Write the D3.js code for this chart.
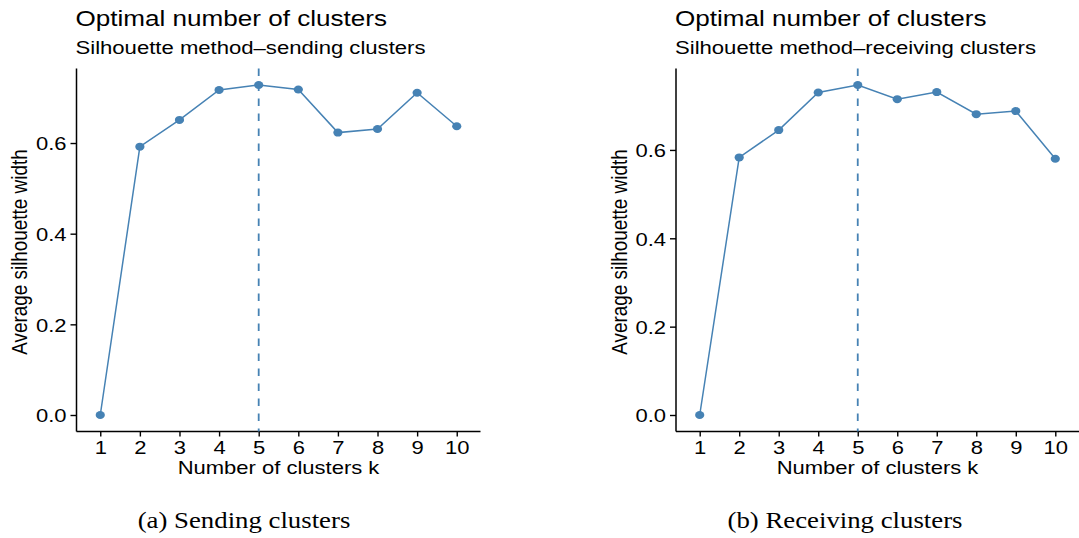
<!DOCTYPE html>
<html>
<head>
<meta charset="utf-8">
<script src="https://cdn.jsdelivr.net/npm/d3@7"></script>
<style>
  html, body { margin: 0; padding: 0; background: #fff; }
  svg { display: block; }
</style>
</head>
<body>
<svg id="chart" width="1079" height="538"></svg>
<script>
// ---- data ----
const kValues = [1, 2, 3, 4, 5, 6, 7, 8, 9, 10];
const sendingWidth = [0, 0.592, 0.651, 0.717, 0.728, 0.718, 0.623, 0.631, 0.711, 0.637];
const receivingWidth = [0, 0.583, 0.645, 0.730, 0.747, 0.715, 0.731, 0.681, 0.688, 0.580];
const yTickValues = [0, 0.2, 0.4, 0.6];
const optimalK = [5, 5];
const titles = ["Optimal number of clusters", "Optimal number of clusters"];
const subtitles = ["Silhouette method\u2013sending clusters", "Silhouette method\u2013receiving clusters"];
const captions = ["(a) Sending clusters", "(b) Receiving clusters"];
const xTitle = "Number of clusters k";
const yTitle = "Average silhouette width";

// ---- layout ----
const SX = 1.17;             // horizontal stretch of the original figure
const FONT = "'Liberation Sans', Arial, Helvetica, sans-serif";
const SERIF = "'Liberation Serif', 'Times New Roman', serif";
const COLOR = "steelblue";
const panels = [
  { left: 76.5, right: 480.5, values: sendingWidth, k: optimalK[0], title: titles[0], subtitle: subtitles[0], caption: captions[0], capX: 244 },
  { left: 676, right: 1079, values: receivingWidth, k: optimalK[1], title: titles[1], subtitle: subtitles[1], caption: captions[1], capX: 845 }
];
const plotTop = 68.5, plotBottom = 431.5;

const svg = d3.select("#chart");

function stretchedText(g, x, y, txt, size, anchor, family, weight) {
  return g.append("text")
    .attr("transform", `translate(${x},${y}) scale(${SX},1)`)
    .attr("text-anchor", anchor || "start")
    .attr("font-family", family || FONT)
    .attr("font-size", size)
    .attr("font-weight", weight || "normal")
    .attr("fill", "#000")
    .text(txt);
}

panels.forEach(p => {
  const g = svg.append("g");
  const vmin = d3.min(p.values), vmax = d3.max(p.values);
  const pad = (vmax - vmin) * 0.05;
  const y = d3.scaleLinear().domain([vmin - pad, vmax + pad]).range([plotBottom, plotTop]);
  const x = d3.scaleLinear().domain([0.4, 10.6]).range([p.left, p.right]);

  // axes
  const xAxis = d3.axisBottom(x).tickValues(kValues).tickSize(5).tickSizeOuter(0).tickFormat(d3.format("d"));
  const yAxis = d3.axisLeft(y).tickValues(yTickValues).tickSize(6).tickSizeOuter(0).tickFormat(d3.format(".1f"));

  const gx = g.append("g").attr("transform", `translate(0,${plotBottom})`).call(xAxis);
  const gy = g.append("g").attr("transform", `translate(${p.left},0)`).call(yAxis);

  [gx, gy].forEach(a => {
    a.select(".domain").attr("stroke", "#000").attr("stroke-width", 1.5);
    a.selectAll(".tick line").attr("stroke", "#000").attr("stroke-width", 1.4);
    a.selectAll(".tick text").attr("font-family", FONT).attr("font-size", 18.8).attr("fill", "#000");
  });
  gx.select(".domain").attr("d", `M${p.left},0H${p.right}`);
  gy.select(".domain").attr("d", `M0,${plotTop}V${plotBottom}`);
  gx.selectAll(".tick text").attr("y", 22.5).attr("dy", 0).attr("transform", `scale(${SX},1)`)
    .attr("x", 0);
  gy.selectAll(".tick text").attr("x", -10 / SX).attr("dy", "0.36em").attr("transform", `scale(${SX},1)`);

  // vertical dashed line at optimal k
  g.append("line")
    .attr("x1", x(p.k)).attr("x2", x(p.k))
    .attr("y1", plotTop).attr("y2", plotBottom)
    .attr("stroke", COLOR).attr("stroke-width", 1.8)
    .attr("stroke-dasharray", "7.5,7.5");

  // line
  const line = d3.line().x((d, i) => x(kValues[i])).y(d => y(d));
  g.append("path").datum(p.values)
    .attr("d", line).attr("fill", "none")
    .attr("stroke", COLOR).attr("stroke-width", 1.5);

  // points
  g.selectAll("ellipse.pt").data(p.values).enter().append("ellipse")
    .attr("class", "pt")
    .attr("cx", (d, i) => x(kValues[i])).attr("cy", d => y(d))
    .attr("rx", 4.6).attr("ry", 4.0)
    .attr("fill", COLOR);

  // titles
  stretchedText(g, p.left - 1, 26, p.title, 22.3);
  stretchedText(g, p.left - 1, 54.3, p.subtitle, 18.9);

  // axis titles
  stretchedText(g, (p.left + p.right) / 2, 474, xTitle, 18.8, "middle");
  g.append("text")
    .attr("transform", `translate(${p.left - 49.5},${(plotTop + plotBottom) / 2 + 2}) scale(${SX},1) rotate(-90)`)
    .attr("text-anchor", "middle")
    .attr("font-family", FONT)
    .attr("font-size", 18.9)
    .attr("fill", "#000")
    .text(yTitle);

  // caption
  stretchedText(svg, p.capX, 528, p.caption, 22.9, "middle", SERIF);
});
</script>
</body>
</html>
